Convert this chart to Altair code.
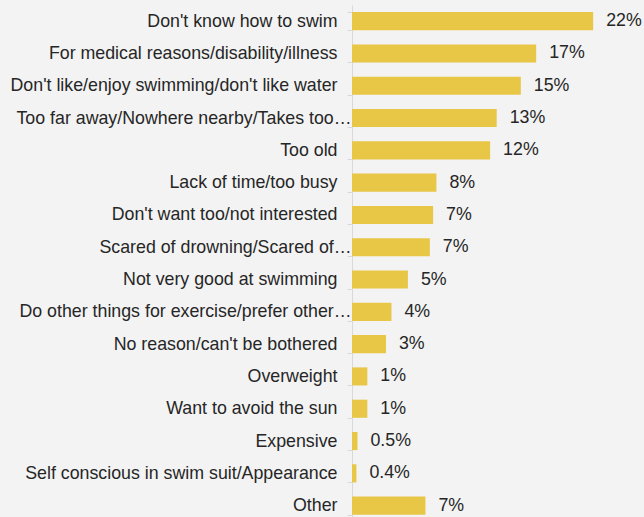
import altair as alt
import pandas as pd

categories = [
    "Don't know how to swim",
    "For medical reasons/disability/illness",
    "Don't like/enjoy swimming/don't like water",
    "Too far away/Nowhere nearby/Takes too…",
    "Too old",
    "Lack of time/too busy",
    "Don't want too/not interested",
    "Scared of drowning/Scared of…",
    "Not very good at swimming",
    "Do other things for exercise/prefer other…",
    "No reason/can't be bothered",
    "Overweight",
    "Want to avoid the sun",
    "Expensive",
    "Self conscious in swim suit/Appearance",
    "Other",
]
values = [22.0, 16.8, 15.4, 13.2, 12.6, 7.7, 7.4, 7.1, 5.1, 3.6, 3.1, 1.4, 1.4, 0.5, 0.4, 6.7]
labels = ["22%", "17%", "15%", "13%", "12%", "8%", "7%", "7%", "5%", "4%", "3%", "1%", "1%", "0.5%", "0.4%", "7%"]

df = pd.DataFrame({"reason": categories, "value": values, "label": labels})

FONT = "Liberation Sans"
TEXT_COLOR = "#262626"
FS = 17.8

y_scale = alt.Scale(paddingInner=0.44, paddingOuter=0.22, range=[0, 516.8])

y_enc = alt.Y(
    "reason:N",
    sort=categories,
    title=None,
    scale=y_scale,
    axis=alt.Axis(
        domainColor="#D9D9D9",
        tickColor="#D9D9D9",
        tickSize=5,
        tickBand="extent",
        labelPadding={
            "condition": {"test": "indexof(datum.label, '…') >= 0", "value": -4},
            "value": 10,
        },
        labelFontSize=FS,
        labelFont=FONT,
        labelColor=TEXT_COLOR,
        labelLimit=400,
        grid=False,
    ),
)
x_enc = alt.X("value:Q", scale=alt.Scale(domain=[0, 26]), axis=None)

bars = alt.Chart(df).mark_bar(color="#E8C646").encode(x=x_enc, y=y_enc)
text = alt.Chart(df).mark_text(
    align="left", baseline="middle", dx=13, fontSize=FS, font=FONT, color=TEXT_COLOR
).encode(x=x_enc, y=alt.Y("reason:N", sort=categories, scale=y_scale), text="label:N")

chart = (
    (bars + text)
    .properties(
        width=285,
        height=512,
        background="#F3F3F3",
        padding={"left": 352, "top": 5, "right": 7, "bottom": 0},
        autosize=alt.AutoSizeParams(type="none"),
    )
    .configure_view(stroke=None)
)

chart.save("out.html", embed_options={"renderer": "svg", "actions": False})
